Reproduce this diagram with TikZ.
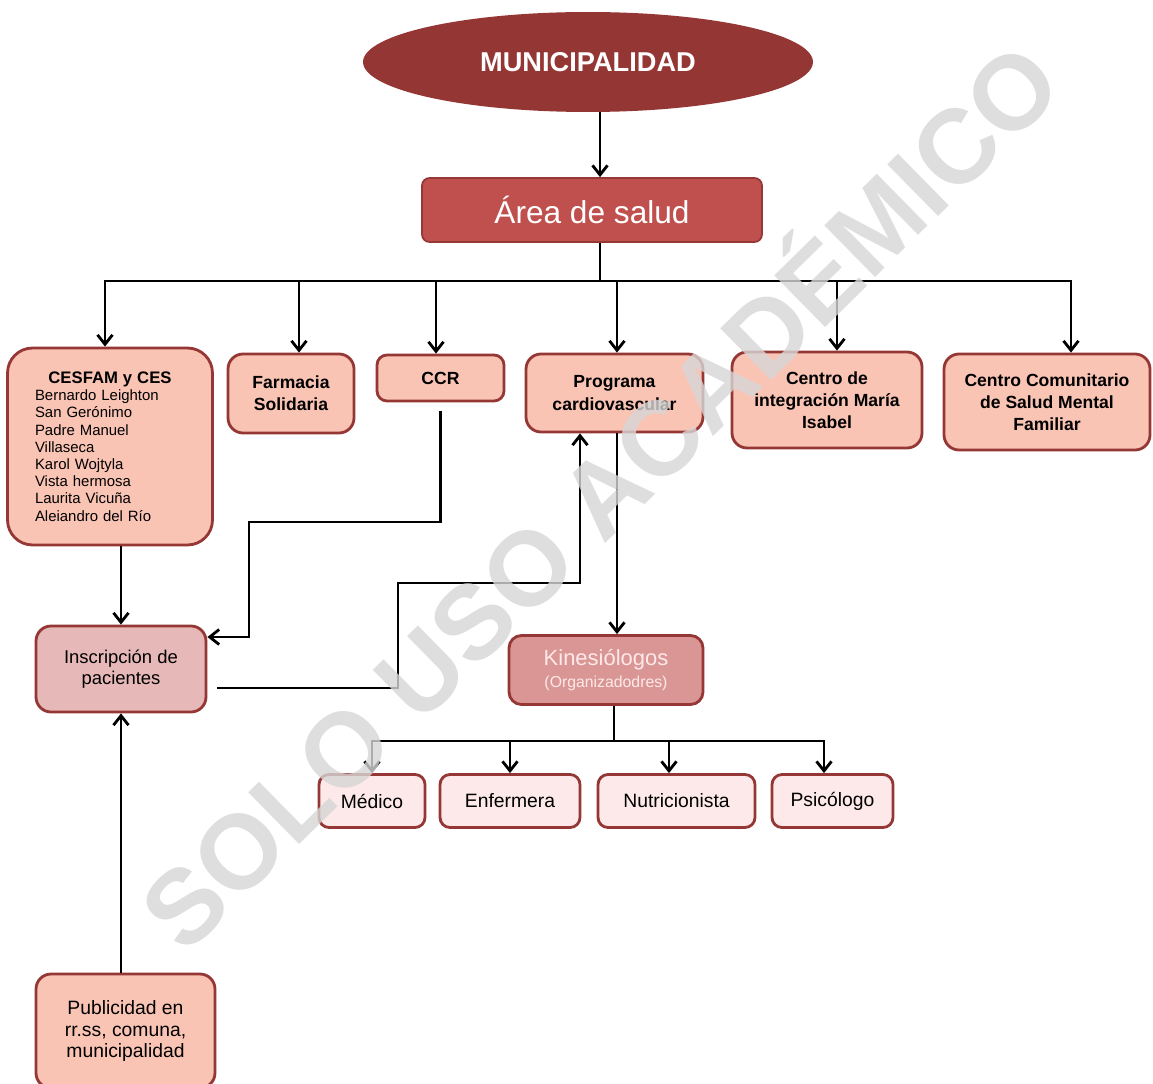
\documentclass[tikz,border=0pt]{standalone}
\usepackage{fontspec}
\setmainfont{Liberation Sans}
\usepackage{xcolor}
\usepackage{tikz}
\usetikzlibrary{arrows.meta,positioning,shapes.geometric}
\definecolor{munired}{HTML}{943634}
\definecolor{areared}{HTML}{C0504D}
\definecolor{boxline}{HTML}{953735}
\definecolor{boxfill}{HTML}{FAC4B5}
\definecolor{inscfill}{HTML}{E6B9B8}
\definecolor{kinefill}{HTML}{D99694}
\definecolor{profill}{HTML}{FDE9E9}

\begin{document}
\begin{tikzpicture}[x=0.02cm, y=-0.02cm, every node/.style={align=center},
    topbox/.style={draw=boxline, line width=1.6pt, fill=boxfill, rounded corners=0.3cm, font=\bfseries\fontsize{10}{12.6}\selectfont},
    probox/.style={draw=boxline, line width=1.6pt, fill=profill, rounded corners=0.2cm, font=\fontsize{11}{13}\selectfont},
    arr/.style={-{Straight Barb[length=1.9mm,width=3mm]}, line width=1.6pt},
    link/.style={line width=1.6pt}]
    \useasboundingbox (0,0) rectangle (1153,1084);
    \fill[white] (0,0) rectangle (1153,1084);

    \node[ellipse, fill=munired, text=white, minimum width=9cm, minimum height=2cm, font=\bfseries\fontsize{15.5}{18}\selectfont] (muni) at (588,62) {MUNICIPALIDAD};
    \node[draw=boxline, line width=1pt, fill=areared, text=white, rounded corners=0.15cm, minimum width=6.8cm, minimum height=1.28cm, font=\fontsize{18}{20}\selectfont] (area) at (592,210) {Área de salud};

    \node[topbox, rounded corners=0.5cm, minimum width=4.1cm, minimum height=3.94cm, text width=3cm, align=left, font=\fontsize{8.5}{9.8}\selectfont] (cesfam) at (110,446.5) {{\centering\bfseries\fontsize{9.5}{10.2}\selectfont CESFAM y CES\par}Bernardo Leighton\\San Gerónimo\\Padre Manuel\\Villaseca\\Karol Wojtyla\\Vista hermosa\\Laurita Vicuña\\Aleiandro del Río};
    \node[topbox, minimum width=2.52cm, minimum height=1.58cm] (farmacia) at (291,393.5) {Farmacia\\Solidaria};
    \node[topbox, rounded corners=0.2cm, minimum width=2.54cm, minimum height=0.92cm] (ccr) at (440.5,378) {CCR};
    \node[topbox, minimum width=3.54cm, minimum height=1.56cm] (programa) at (614.5,393) {Programa\\cardiovascular};
    \node[topbox, minimum width=3.8cm, minimum height=1.92cm] (integracion) at (827,400) {Centro de\\integración María\\Isabel};
    \node[topbox, minimum width=4.12cm, minimum height=1.92cm] (saludmental) at (1047,402) {Centro Comunitario\\de Salud Mental\\Familiar};

    \node[topbox, fill=inscfill, minimum width=3.4cm, minimum height=1.72cm, font=\fontsize{10.5}{12}\selectfont] (inscripcion) at (121,669) {Inscripción de\\pacientes};
    \node[topbox, fill=kinefill, text=profill, rounded corners=0.25cm, minimum width=3.88cm, minimum height=1.38cm, font=\fontsize{12.5}{12.5}\selectfont] (kine) at (606,670) {Kinesiólogos\\{\fontsize{9}{11}\selectfont (Organizadodres)}};
    \node[topbox, minimum width=3.58cm, minimum height=2.28cm, font=\fontsize{11}{12.5}\selectfont] (publicidad) at (125.5,1031) {Publicidad en\\rr.ss, comuna,\\municipalidad};

    \node[probox, minimum width=2.12cm, minimum height=1.06cm] (medico) at (372,801) {Médico};
    \node[probox, minimum width=2.8cm, minimum height=1.06cm] (enfermera) at (510,801) {Enfermera};
    \node[probox, minimum width=3.14cm, minimum height=1.06cm] (nutri) at (676.5,801) {Nutricionista};
    \node[probox, minimum width=2.42cm, minimum height=1.06cm] (psico) at (832.5,801) {Psicólogo};

    \coordinate (bus) at (600,281);
    \coordinate (bus2) at (614,741);
    \coordinate (ccrbend) at (249,522);
    \coordinate (inscbend) at (398,583);

    \draw[arr] (muni.south -| bus) -- (area.north -| bus);
    \draw[link] (area.south -| bus) -- (bus);
    \draw[arr] (bus) -| ([xshift=-0.1cm]cesfam.north);
    \draw[arr] (bus) -| ([xshift=0.16cm]farmacia.north);
    \draw[arr] (bus) -| ([xshift=-0.09cm]ccr.north);
    \draw[arr] (bus) -| ([xshift=0.05cm]programa.north);
    \draw[arr] (bus) -| ([xshift=0.2cm]integracion.north);
    \draw[arr] (bus) -| ([xshift=0.48cm]saludmental.north);

    \draw[arr] (cesfam.south -| inscripcion.north) -- (inscripcion.north);
    \draw[arr] ([yshift=-0.18cm]ccr.south) |- (ccrbend) |- ([yshift=0.64cm]inscripcion.east);
    \draw[arr] ([xshift=0.2cm,yshift=-0.38cm]inscripcion.east) -| (inscbend) -| ([xshift=-0.69cm]programa.south);
    \draw[arr] ([xshift=0.05cm]programa.south) -- ([xshift=0.05cm]programa.south |- kine.north);
    \draw[arr] (publicidad.north -| inscripcion.south) -- (inscripcion.south);

    \draw[link] (kine.south -| bus2) -- (bus2);
    \draw[arr] (bus2) -| (medico.north);
    \draw[arr] (bus2) -| (enfermera.north);
    \draw[arr] (bus2) -| ([xshift=-0.15cm]nutri.north);
    \draw[arr] (bus2) -| ([xshift=-0.17cm]psico.north);

    % marca de agua
    \node[rotate=44.5, text=black!16, opacity=0.8, font=\bfseries\fontsize{60}{60}\selectfont] (marca) at (594,490) {SOLO USO ACADÉMICO};
\end{tikzpicture}
\end{document}
